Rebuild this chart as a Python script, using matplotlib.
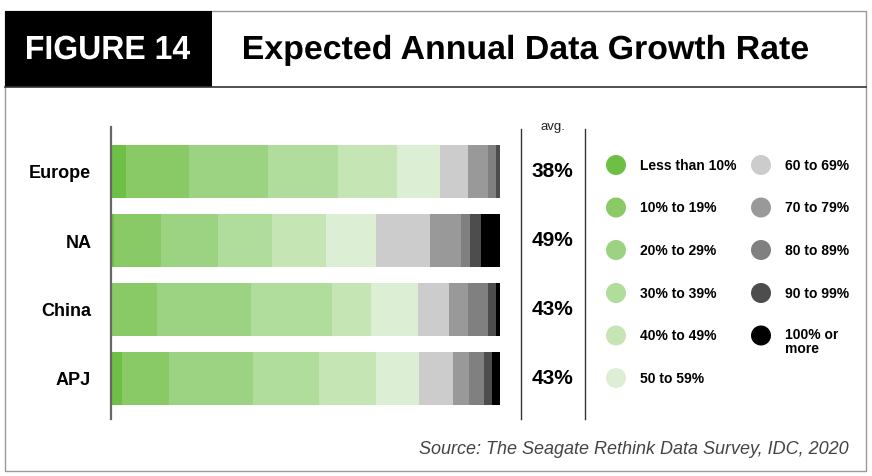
import matplotlib
matplotlib.use("Agg")
import matplotlib.pyplot as plt
from matplotlib.patches import Rectangle, PathPatch
from matplotlib.textpath import TextPath
from matplotlib.font_manager import FontProperties
from matplotlib.transforms import Affine2D

plt.rcParams['font.family'] = ['Liberation Sans', 'DejaVu Sans']

regions = ["Europe", "NA", "China", "APJ"]
bands = ["Less than 10%", "10% to 19%", "20% to 29%", "30% to 39%", "40% to 49%",
         "50 to 59%", "60 to 69%", "70 to 79%", "80 to 89%", "90 to 99%", "100% or\nmore"]
shares = {
    "Europe": [3.9, 16.2, 20.2, 18.1, 15.2, 11.0, 7.2, 5.1, 2.1, 1.0, 0.0],
    "NA":     [0.9, 11.9, 14.8, 13.9, 13.9, 12.8, 13.9, 8.0, 2.1, 2.8, 5.0],
    "China":  [0.0, 11.9, 24.1, 20.9, 10.0, 12.1, 8.0, 4.9, 5.1, 2.0, 1.0],
    "APJ":    [2.9, 12.0, 21.7, 16.9, 14.7, 11.0, 8.7, 4.1, 3.9, 2.0, 2.1],
}
averages = ["38%", "49%", "43%", "43%"]
colors = ["#6dbf45", "#89c966", "#9cd382", "#b0dd9b", "#c5e5b5", "#dcefd4",
          "#cccccc", "#999999", "#808080", "#4d4d4d", "#000000"]

W, H = 872, 477
fig = plt.figure(figsize=(W / 100, H / 100), dpi=100)

# overlay in pixel coordinates for frame, header, labels and legend
ov = fig.add_axes([0, 0, 1, 1])
ov.set_xlim(0, W)
ov.set_ylim(H, 0)
ov.axis("off")

BOLD = FontProperties(family="Liberation Sans", weight="bold")


def fitted_text(s, x_left, x_right, baseline, cap, color):
    """Draw a bold headline scaled to a given width and cap height."""
    tp = TextPath((0, 0), s, size=1, prop=BOLD)
    cap_unit = TextPath((0, 0), "H", size=1, prop=BOLD).get_extents().height
    bb = tp.get_extents()
    sx = (x_right - x_left) / bb.width
    sy = cap / cap_unit
    tr = Affine2D().translate(-bb.x0, 0).scale(sx, -sy).translate(x_left, baseline)
    ov.add_patch(PathPatch(tr.transform_path(tp), fc=color, ec="none", lw=0))


ov.add_patch(Rectangle((5, 12), 861, 460, fill=False, ec="#9a9a9a", lw=1.0))
ov.add_patch(Rectangle((5, 12), 207, 76, fc="black", ec="none"))
ov.plot([5, 866], [88, 88], color="#333333", lw=1.2)
fitted_text("FIGURE 14", 27, 190, 60, 23, "white")
fitted_text("Expected Annual Data Growth Rate", 244, 808, 60, 23, "black")

# stacked bars
x0, x1 = 110.7, 500.0
ytop, ybot = 128, 420
ax = fig.add_axes([x0 / W, 1 - ybot / H, (x1 - x0) / W, (ybot - ytop) / H])
ax.set_xlim(0, 100)
ax.set_ylim(3 + 41 / 69, -44 / 69)
ypos = list(range(len(regions)))
for i, r in enumerate(regions):
    left = 0.0
    for v, c in zip(shares[r], colors):
        if v > 0:
            ax.barh(i, v, left=left, height=53 / 69, color=c, edgecolor="none")
        left += v
ax.set_yticks(ypos)
ax.set_yticklabels(regions, fontsize=13, fontweight="bold")
ax.tick_params(axis="y", length=0, pad=14)
ax.set_xticks([])
for s in ["top", "right", "bottom"]:
    ax.spines[s].set_visible(False)
ax.spines["left"].set_color("#666666")
ax.spines["left"].set_linewidth(1.6)

# average column
ov.plot([521, 521], [130, 420], color="#333333", lw=1.0)
ov.plot([585, 585], [130, 420], color="#333333", lw=1.0)
ov.text(553, 127, "avg.", fontsize=9.5, ha="center", va="center", color="#222222")
for i, a in enumerate(averages):
    ov.text(552, 172 + 69 * i, a, fontsize=15, fontweight="bold", ha="center", va="center")

# legend
col_x = [(616, 640), (761, 785)]
row_y = [166, 208.5, 251, 294, 336.5, 379]
for k, (lab, c) in enumerate(zip(bands, colors)):
    col = 0 if k < 6 else 1
    row = k if k < 6 else k - 6
    cx, tx = col_x[col]
    cy = row_y[row]
    ov.scatter([cx], [cy], s=14.4 ** 2, color=c, edgecolor="none")
    if "\n" in lab:
        ov.text(tx, cy - 8, lab, fontsize=10, fontweight="bold", ha="left", va="top",
                linespacing=1.0)
    else:
        ov.text(tx, cy, lab, fontsize=10, fontweight="bold", ha="left", va="center")

ov.text(849, 450, "Source: The Seagate Rethink Data Survey, IDC, 2020", fontsize=13,
        style="italic", color="#444444", ha="right", va="center")

fig.savefig("out.png", dpi=100)
